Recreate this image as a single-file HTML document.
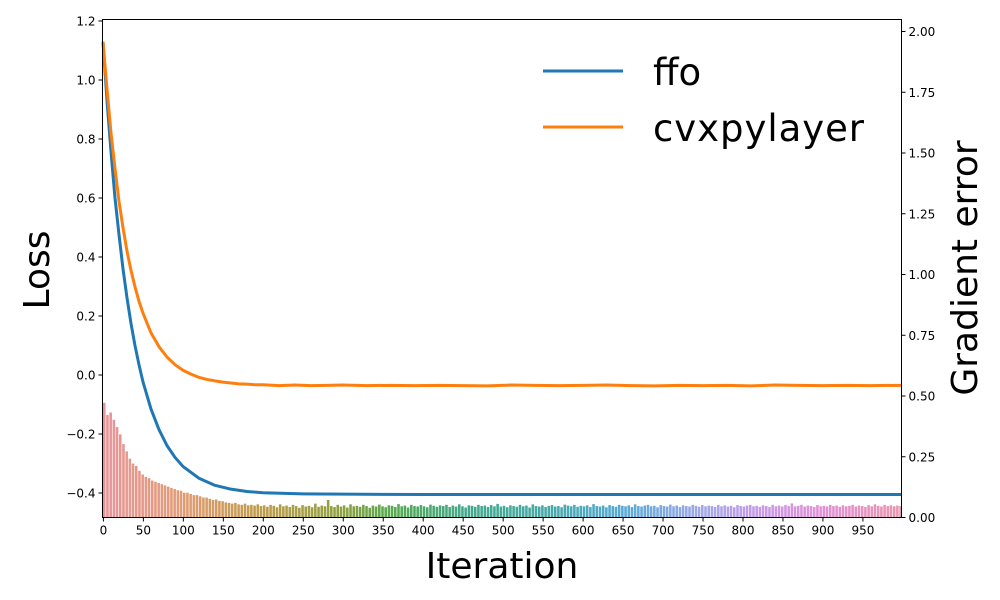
<!DOCTYPE html>
<html><head><meta charset="utf-8"><style>
html,body{margin:0;padding:0;background:#fff;}
svg{display:block;font-family:"DejaVu Sans","Liberation Sans",sans-serif;}
</style></head><body>
<svg id="chart" width="1000" height="600" viewBox="0 0 1000 600" xmlns="http://www.w3.org/2000/svg">
<g id="bars"></g>
<g id="lines"></g>
<rect x="102.5" y="19.5" width="799" height="498" fill="none" stroke="#000" stroke-width="1"/>
<g id="axes"></g>
<text x="0" y="0" font-size="36" text-anchor="middle" transform="translate(49,270) rotate(-90)">Loss</text>
<text x="502" y="578" font-size="36" text-anchor="middle">Iteration</text>
<text x="0" y="0" font-size="36" text-anchor="middle" transform="translate(977,268) rotate(-90)">Gradient error</text>
<g>
<line x1="543" y1="71" x2="623" y2="71" stroke="#1f77b4" stroke-width="3"/>
<text x="653" y="85" font-size="37">ffo</text>
<line x1="543" y1="127" x2="623" y2="127" stroke="#ff7f0e" stroke-width="3"/>
<text x="653" y="141" font-size="37" textLength="211">cvxpylayer</text>
</g>
</svg>
<script>
const ffoIters = [0,5,10,15,20,25,30,35,40,45,50,60,70,80,90,100,120,140,160,180,200,250,300,400,999];
const ffoLoss = [1.13,0.93,0.757,0.60,0.476,0.36,0.262,0.175,0.100,0.035,-0.023,-0.115,-0.185,-0.239,-0.279,-0.310,-0.350,-0.374,-0.387,-0.395,-0.399,-0.403,-0.404,-0.405,-0.405];
const cvxIters = [0,5,10,15,20,25,30,35,40,45,50,60,70,80,90,100,110,120,130,140,150,160,170,180,190,200,220,240,260,280,300,330,360,390,420,450,480,510,540,570,600,630,660,690,720,750,780,810,840,870,900,930,960,999];
const cvxLoss = [1.13,0.97,0.82,0.70,0.589,0.50,0.42,0.355,0.299,0.25,0.21,0.143,0.096,0.061,0.035,0.016,0.003,-0.008,-0.015,-0.020,-0.024,-0.027,-0.030,-0.031,-0.033,-0.033,-0.036,-0.034,-0.036,-0.035,-0.034,-0.036,-0.035,-0.036,-0.035,-0.036,-0.037,-0.034,-0.035,-0.036,-0.035,-0.034,-0.036,-0.037,-0.035,-0.036,-0.035,-0.037,-0.034,-0.035,-0.036,-0.035,-0.036,-0.035];
const gradStride = 4;
const gradErr = [
0.47,0.42,0.43,0.40,0.37,0.34,0.30,0.27,0.24,0.22,
0.21,0.19,0.175,0.165,0.16,0.15,0.145,0.14,0.135,0.13,
0.125,0.12,0.115,0.11,0.108,0.10,0.10,0.095,0.09,0.09,
0.085,0.08,0.08,0.075,0.07,0.072,0.066,0.065,0.06,0.058,
0.055,0.058,0.052,0.05,0.055,0.048,0.05,0.047,0.052,0.045,
0.048,0.042,0.05,0.046,0.04,0.052,0.044,0.047,0.041,0.05,
0.045,0.038,0.049,0.043,0.046,0.04,0.055,0.042,0.047,0.044,
0.07,0.045,0.041,0.05,0.043,0.048,0.039,0.052,0.044,0.046,
0.042,0.05,0.045,0.038,0.047,0.043,0.051,0.044,0.04,0.048,
0.046,0.041,0.053,0.044,0.047,0.039,0.05,0.045,0.043,0.049,
0.044,0.04,0.051,0.046,0.042,0.048,0.045,0.05,0.041,0.047,
0.043,0.052,0.044,0.039,0.048,0.046,0.042,0.05,0.045,0.047,
0.041,0.049,0.044,0.054,0.043,0.046,0.04,0.048,0.045,0.042,
0.05,0.044,0.047,0.039,0.052,0.045,0.043,0.048,0.041,0.046,
0.049,0.043,0.045,0.04,0.051,0.047,0.044,0.05,0.042,0.046,
0.044,0.048,0.041,0.053,0.045,0.043,0.047,0.04,0.049,0.045,
0.042,0.05,0.046,0.044,0.048,0.041,0.052,0.045,0.043,0.047,
0.05,0.044,0.046,0.04,0.049,0.045,0.043,0.051,0.044,0.047,
0.041,0.048,0.045,0.043,0.05,0.046,0.042,0.049,0.044,0.047,
0.045,0.041,0.05,0.044,0.048,0.043,0.046,0.04,0.049,0.045,
0.043,0.047,0.05,0.044,0.046,0.042,0.048,0.045,0.041,0.05,
0.044,0.047,0.043,0.049,0.045,0.056,0.044,0.046,0.05,0.043,
0.047,0.045,0.041,0.049,0.044,0.046,0.043,0.05,0.045,0.047,
0.042,0.048,0.044,0.046,0.05,0.043,0.047,0.045,0.041,0.049,
0.044,0.052,0.046,0.043,0.05,0.045,0.048,0.044,0.047,0.045];
const xTicks = [0,50,100,150,200,250,300,350,400,450,500,550,600,650,700,750,800,850,900,950];
const yTicks = [-0.4,-0.2,0.0,0.2,0.4,0.6,0.8,1.0,1.2];
const y2Ticks = [0,0.25,0.5,0.75,1.0,1.25,1.5,1.75,2.0];

const NS = "http://www.w3.org/2000/svg";
const X0 = 102.5, X1 = 901.5, YT = 19.5, YB = 517.5;
function xs(i){ return 103 + i*0.7995; }
function ys(v){ return 80 - (v-1.0)*295; }
function ys2(v){ return 517 - v*243; }
function mk(tag, attrs, parent){ const e=document.createElementNS(NS,tag); for(const k in attrs) e.setAttribute(k,attrs[k]); parent.appendChild(e); return e; }

const anchors = [[0,[232,149,154]],[100,[225,155,115]],[200,[188,156,72]],[300,[140,160,64]],[350,[90,168,74]],[450,[66,168,138]],[560,[70,168,170]],[650,[86,170,214]],[750,[165,168,232]],[820,[200,154,232]],[900,[226,144,214]],[1000,[232,150,170]]];
function colorAt(i){
  for(let k=0;k<anchors.length-1;k++){
    const a=anchors[k],b=anchors[k+1];
    if(i>=a[0]&&i<=b[0]){const t=(i-a[0])/(b[0]-a[0]);const c=a[1].map((v,j)=>Math.round(v+(b[1][j]-v)*t));return `rgb(${c[0]},${c[1]},${c[2]})`;}
  }
  return "rgb(232,150,170)";
}

const barsG = document.getElementById('bars');
gradErr.forEach((v,k)=>{
  const it = k*gradStride;
  const x = xs(it);
  const w = gradStride*0.7995*0.8;
  const r = mk('rect',{x:x.toFixed(2),y:ys2(v).toFixed(2),width:w.toFixed(2),height:(517-ys2(v)).toFixed(2),fill:colorAt(it)},barsG);
  
  
});

const linesG = document.getElementById('lines');
function path(iters, vals){ return iters.map((t,i)=>(i?'L':'M')+xs(t).toFixed(2)+' '+ys(vals[i]).toFixed(2)).join(' '); }
const pf = mk('path',{d:path(ffoIters,ffoLoss),fill:'none',stroke:'#1f77b4','stroke-width':3,'stroke-linejoin':'round'},linesG);


const pc = mk('path',{d:path(cvxIters,cvxLoss),fill:'none',stroke:'#ff7f0e','stroke-width':3,'stroke-linejoin':'round'},linesG);



const axes = document.getElementById('axes');
xTicks.forEach(t=>{
  const x = xs(t)+0.4;
  const l = mk('line',{x1:x,y1:YB,x2:x,y2:YB+4,stroke:'#000'},axes);
  
  
  const tx = mk('text',{x:x,y:YB+17,'font-size':12,'text-anchor':'middle'},axes);
  tx.textContent = t;
  
  
});
yTicks.forEach(t=>{
  const y = ys(t);
  const l = mk('line',{x1:X0-4,y1:y,x2:X0,y2:y,stroke:'#000'},axes);
  
  
  const tx = mk('text',{x:X0-7,y:y+4.5,'font-size':12,'text-anchor':'end'},axes);
  tx.textContent = t.toFixed(1).replace('-', '\u2212');
  
  
});
y2Ticks.forEach(t=>{
  const y = ys2(t)+0.5;
  const l = mk('line',{x1:X1,y1:y,x2:X1+4,y2:y,stroke:'#000'},axes);
  
  
  const tx = mk('text',{x:X1+7,y:y+4.5,'font-size':12,'text-anchor':'start'},axes);
  tx.textContent = t.toFixed(2);
  
  
});
</script>
</body></html>
